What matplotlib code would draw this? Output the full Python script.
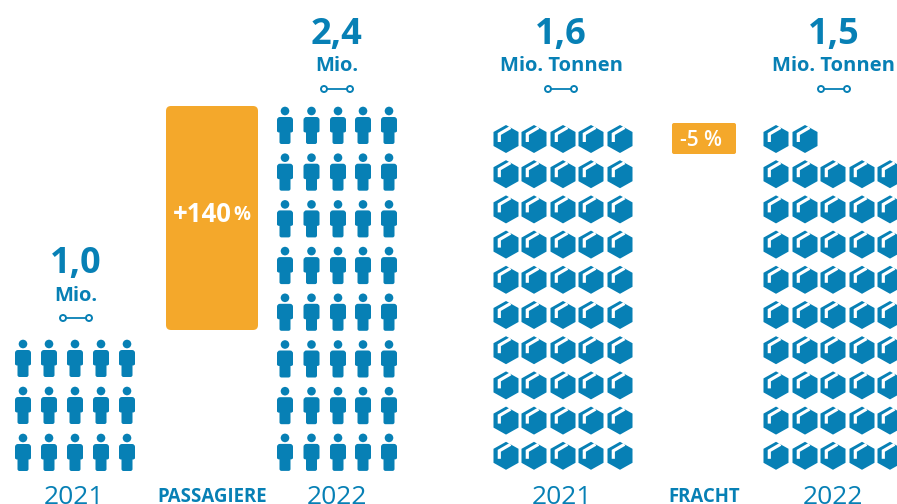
import matplotlib
matplotlib.use("Agg")
import matplotlib.pyplot as plt
from matplotlib.path import Path
from matplotlib.patches import PathPatch, FancyBboxPatch, Circle
from matplotlib.transforms import Affine2D

BLUE = "#0780B5"
ORANGE = "#F4A82B"

# Data
pax_years = ["2021", "2022"]
pax_values = ["1,0", "2,4"]
pax_icons = [15, 40]
pax_change = "+140"
freight_years = ["2021", "2022"]
freight_values = ["1,6", "1,5"]
freight_icons = [50, 47]
freight_change = "-5"

plt.rcParams["font.family"] = ["Open Sans", "DejaVu Sans"]
fig = plt.figure(figsize=(8.97, 5.04), dpi=100)
ax = fig.add_axes([0, 0, 1, 1])
ax.set_xlim(0, 897)
ax.set_ylim(504, 0)
ax.axis("off")

M, L, C = Path.MOVETO, Path.LINETO, Path.CURVE3
Z = Path.CLOSEPOLY


def person():
    head = Path.circle((0, 0), 4.3)
    v = [(-5, 6), (5, 6), (8, 6), (8, 9), (8, 20), (8, 21.5), (5.5, 21.5),
         (5.5, 31), (5.5, 33), (3.5, 33), (-3.5, 33), (-5.5, 33), (-5.5, 31),
         (-5.5, 21.5), (-8, 21.5), (-8, 20), (-8, 9), (-8, 6), (-5, 6), (-5, 6)]
    c = [M, L, C, C, L, C, C, L, C, C, L, C, C, L, C, C, L, C, C, Z]
    return Path.make_compound_path(head, Path(v, c))


def box():
    v = [(0, -14), (12.5, -7), (12.5, 7), (0, 14), (-12.5, 7), (-12.5, -7), (0, -14)]
    return Path(v, [M, L, L, L, L, L, Z])


def draw_grid(path, n, xs, ys, top_first, slit=False):
    """n icons in rows; a partial row, if any, comes first."""
    per_row = len(xs)
    first = n % per_row or per_row
    counts = [first] + [per_row] * ((n - first) // per_row)
    for row, cnt in enumerate(counts):
        y = top_first + row * ys
        for i in range(cnt):
            t = Affine2D().translate(xs[i], y)
            ax.add_patch(PathPatch(path.transformed(t), fc=BLUE, ec="none", clip_on=True))
            if slit:
                ax.plot([xs[i] + 4.5, xs[i] - 6.7, xs[i] - 6.7],
                        [y - 11.5, y - 5, y + 3], color="white", lw=2.3,
                        solid_joinstyle="miter", solid_capstyle="butt")


def link(cx, y):
    ax.plot([cx - 10, cx + 10], [y, y], color=BLUE, lw=1.3, zorder=2)
    for dx in (-13, 13):
        ax.add_patch(Circle((cx + dx, y), 3, fc="white", ec=BLUE, lw=1.4, zorder=3))


def header(cx, value, unit, y_val, y_unit, y_link):
    ax.text(cx, y_val, value, color=BLUE, fontsize=26, fontweight="bold", ha="center", va="center")
    ax.text(cx, y_unit, unit, color=BLUE, fontsize=14.5, fontweight="bold", ha="center", va="center")
    link(cx, y_link)


# Passengers
p_x21 = [23, 49, 75, 101, 127]
p_x22 = [285, 311.5, 338, 363, 389]
draw_grid(person(), pax_icons[0], p_x21, 47, 344)
draw_grid(person(), pax_icons[1], p_x22, 46.7, 111)
header(76, pax_values[0], "Mio.", 264, 296, 318)
header(337, pax_values[1], "Mio.", 35, 66, 89)

# Freight
f_x21 = [506, 534, 563, 591, 620]
f_x22 = [776, 805, 833, 862, 890]
draw_grid(box(), freight_icons[0], f_x21, 35.2, 139, slit=True)
draw_grid(box(), freight_icons[1], f_x22, 35.2, 139, slit=True)
header(561, freight_values[0], "Mio. Tonnen", 35, 66, 89)
header(834, freight_values[1], "Mio. Tonnen", 35, 66, 89)

# Change boxes
ax.add_patch(FancyBboxPatch((169, 109), 86, 218, boxstyle="round,pad=3,rounding_size=5", fc=ORANGE, ec="none"))
ax.add_patch(FancyBboxPatch((674, 125), 60, 27, boxstyle="round,pad=2,rounding_size=2", fc=ORANGE, ec="none"))
ax.text(202, 214, pax_change, color="white", fontsize=18.5, fontweight="bold", ha="center", va="center")
ax.text(242, 215, "%", color="white", fontsize=13.5, fontweight="bold", ha="center", va="center")
ax.text(700.5, 141, freight_change + " %", color="white", fontsize=15, fontweight="semibold", ha="center", va="center")

# Bottom labels
for x, label in zip([74, 337], pax_years):
    ax.text(x, 503.8, label, color=BLUE, fontsize=19, ha="center", va="baseline")
for x, label in zip([562, 833], freight_years):
    ax.text(x, 503.8, label, color=BLUE, fontsize=19, ha="center", va="baseline")
ax.text(212.5, 502.5, "PASSAGIERE", color=BLUE, fontsize=13.4, fontweight="bold", ha="center", va="baseline")
ax.text(704, 502.5, "FRACHT", color=BLUE, fontsize=13.4, fontweight="bold", ha="center", va="baseline")

fig.savefig("out.png", dpi=100)
